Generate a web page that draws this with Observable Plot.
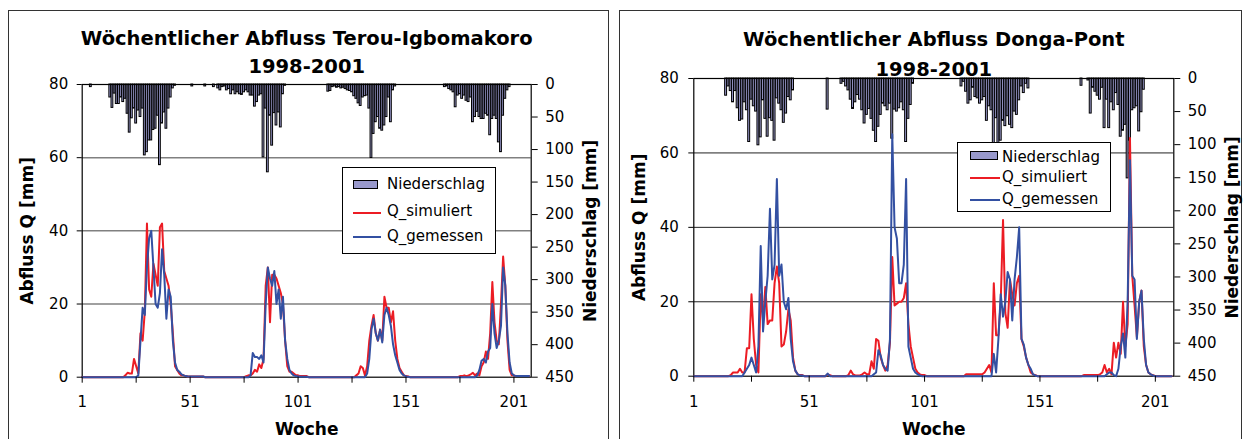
<!DOCTYPE html>
<html><head><meta charset="utf-8">
<script src="https://cdn.jsdelivr.net/npm/d3@7"></script>
<script src="https://cdn.jsdelivr.net/npm/@observablehq/plot@0.6"></script>
<style>
body{margin:0;background:#fff;font-family:"DejaVu Sans",sans-serif;}
#root{position:relative;width:1248px;height:439px;overflow:hidden;background:#fff;}
.panel{position:absolute;border:1.5px solid #333;box-sizing:border-box;}
.chart{position:absolute;top:0;}
.legend{position:absolute;background:#fff;border:1px solid #000;box-sizing:border-box;font-size:15px;line-height:15px;color:#000;}
.legend span{position:absolute;white-space:nowrap;}
.sw-rect{background:#9999cc;border:1px solid #000;box-sizing:border-box;}
</style></head>
<body>
<div id="root">
  <div class="panel" style="left:8px;top:10px;width:601px;height:460px"></div>
  <div class="panel" style="left:619px;top:10px;width:623px;height:460px"></div>
  <div id="c1" class="chart" style="left:0px"></div>
  <div id="c2" class="chart" style="left:620px"></div>
</div>
<script>
// ---------- data (weeks 1..208) ----------
const weeks = d3.range(1, 209);
const xLabels = [1, 51, 101, 151, 201];
const xTickMarks = [1, 26, 51, 76, 101, 126, 151, 176, 201];
const qTicks = [0, 20, 40, 60, 80];
const pTicks = [0, 50, 100, 150, 200, 250, 300, 350, 400, 450];
const seriesNames = ["Niederschlag", "Q_simuliert", "Q_gemessen"];

// Terou-Igbomakoro
const precipL = [
0,0,0,0,4,0,0,0,0,0,0,0,0,20,36,14,30,30,20,27,22,45,74,52,37,60,
40,50,37,109,104,86,86,70,68,48,124,60,43,68,37,20,6,2,0,0,0,0,0,0,0,3,
0,0,0,0,0,3,0,0,0,4,0,6,9,4,3,9,7,15,9,15,12,15,16,12,9,12,
17,17,34,27,17,15,112,37,135,48,94,44,63,43,66,15,2,0,0,0,0,0,0,0,0,0,
0,0,0,0,0,0,0,0,0,0,11,10,4,3,5,4,6,5,7,9,10,12,18,22,29,33,
20,18,17,37,113,76,58,50,68,71,63,50,20,58,9,3,0,0,0,0,0,0,0,0,0,0,
0,0,0,0,0,0,0,0,0,0,0,0,4,3,7,9,12,35,17,15,22,17,25,27,20,58,
50,42,50,53,53,45,48,78,53,48,53,89,104,48,22,9,4,0,0,0,0,0,0,0,0,0];
const simL = [
0,0,0,0,0,0,0,0,0,0,0,0,0,0,0,0,0,0,0,0,0.5,1.2,1,1,5,3,
1,12,10,18,42,24,22,31,28,25,41,42,29,27,25,20,12,3,2,1,0.5,0.5,0.3,0.2,0.2,0.2,
0.2,0.2,0.2,0.2,0.2,0,0,0,0,0,0,0,0,0,0,0,0,0,0,0,0,0,0,0,0.3,0.5,
0.5,1,2,1.5,3.5,2.5,5,25,30,15,28,28,27,25,23,20,10,3,1.5,1.5,1,0.5,0.5,0.3,0.3,0.3,
0.3,0,0,0,0,0,0,0,0,0,0,0,0,0,0,0,0,0,0,0,0,0,0,0.5,1,3,
2.5,0.5,3,10,14,17,12,10,13,10,22,19,19,15,18,10,5,2.5,1.5,0.5,0.3,0.2,0,0,0,0,
0,0,0,0,0,0,0,0,0,0,0,0,0,0,0,0,0,0,0,0.3,0.3,0.5,0.3,0.5,0.8,1.2,
0.5,1,0.5,3,4,7,5,12,26,15,10,9,20,33,25,10,2,0.5,0.5,0.3,0.3,0.3,0.3,0.3,0.3,0.3];
const obsL = [
0,0,0,0,0,0,0,0,0,0,0,0,0,0,0,0,0,0,0,0,0,0,0,0,0,0,
0.5,10,19,17,30,38,40,30,20,19,23,35,28,16,24,22,10,4,2,1.5,0.8,0.5,0.3,0.2,0.2,0.2,
0.2,0.2,0.2,0.2,0.2,0,0,0,0,0,0,0,0,0,0,0,0,0,0,0,0,0,0,0,0,0,
0.5,6.6,5.5,5.5,5,6,4,20,30,27,25,29,20,24,16,22,10,5,2,1,0.5,0.3,0.2,0.1,0.1,0.1,
0.1,0,0,0,0,0,0,0,0,0,0,0,0,0,0,0,0,0,0,0,0,0,0,0,0,0,
0,0,1,5,13,16,12,10,13,9.5,17,19,17,14,9,6,4,2,1,0.5,0.2,0.1,0,0,0,0,
0,0,0,0,0,0,0,0,0,0,0,0,0,0,0,0,0,0,0,0,0,0,0,0,0,0,
0,0.5,2,4.5,5,4,7,8,20,12,8,10,14,30,25,12,4,1,0.5,0.3,0.3,0.3,0.3,0.3,0.3,0.3];

// Donga-Pont
const precipR = [
0,0,0,0,0,0,0,0,0,0,0,0,0,0,26,12,19,36,19,45,64,62,36,48,96,32,
42,50,101,89,33,61,88,60,64,94,30,38,48,67,53,28,33,18,0,0,0,0,0,0,0,0,
0,0,0,0,0,0,47,0,0,0,0,0,8,5,12,18,32,46,36,25,32,48,68,55,46,61,
79,96,73,55,38,42,48,38,91,47,50,45,36,48,96,61,40,8,0,0,0,0,0,0,0,0,
0,0,0,0,0,0,0,0,0,0,0,0,12,5,20,38,33,14,28,30,38,33,28,64,42,48,
115,60,110,94,64,72,57,70,75,50,55,33,12,22,8,15,0,0,0,0,0,0,0,0,0,0,
0,0,0,0,0,0,0,0,0,0,0,0,11,0,0,3,53,14,20,26,32,14,75,32,75,36,
48,22,40,88,79,70,151,94,48,45,42,80,51,17,0,0,0,0,0,0,0,0,0,0,0,0];
const simR = [
0,0,0,0,0,0,0,0,0,0,0,0,0,0,0,0,0.3,1,1,1,2,1,1,7.5,7.5,22,
10,3,1,22,15,24,14,15,15,25,29.5,25,8,8.5,12,18,15,5,1.5,0.5,0.3,0.3,0,0,0,0,
0,0,0,0,0,0,0.5,0.3,0,0,0,0,0,0,0,0.3,1.5,0.5,0.2,0.2,0.2,0.5,1,0.5,0.5,4,
2,10,9.5,5,3,1.5,3,9,32,19,19.5,20,20,21,25,14,8,5,2,1,0.5,0.3,0.3,0,0,0,
0,0,0,0,0,0,0,0,0,0,0,0,0,0,0.5,0.5,0.5,0.5,0.5,0.5,0.5,0.5,1,2,3,1,
25,11,11,20,42,17,13,26,22,19,25,27,10,8,5,3,1,0.5,0.3,0,0,0,0,0,0,0,
0,0,0,0,0,0,0,0,0,0,0,0,0,0.3,0.3,0.3,0.3,0.3,0.3,0.3,0.5,1,3,1,2,0.5,
9,5,9,6,20,8,14,64,27,19,10.5,20,23,8,3,1,0.5,0.3,0,0,0,0,0,0,0,0];
const obsR = [
0,0,0,0,0,0,0,0,0,0,0,0,0,0,0,0,0,0,0,0,0,0,1,2,3,5,
3,1,8,35,12,20,27,45,26,30,53,27,30,20,18,21,10,4,1.5,0.5,0.2,0.2,0,0,0,0,
0,0,0,0,0,0,0.7,0,0,0,0,0,0,0,0,0,0,0,0,0,0,0,0,0,0,0,
0.5,1,7,5.5,3,2,1.5,10,65,40,37,25,25,30,53,8,5,2,1,0.5,0.2,0,0,0,0,0,
0,0,0,0,0,0,0,0,0,0,0,0,0,0,0,0,0,0,0,0,0,0,0,0,0,0,
6,1,10,22,16,20,28,26,15,26,32,40,10,8.5,5,3,2,0.5,0.2,0,0,0,0,0,0,0,
0,0,0,0,0,0,0,0,0,0,0,0,0,0,0,0,0,0,0,0,0,0,0,0.5,1,1,
0.3,0,2,8,11.5,5,20,58,27,26,10,20,23,10,3,1,0.5,0.2,0,0,0,0,0,0,0,0];

// ---------- drawing ----------
const FONT = "DejaVu Sans";
const RED = "#ec1c24";
const BLUE = "#3350a2";
const BARFILL = "#9999cc";
const pToQ = p => 80 - p * 80 / 450;

function panel(cfg) {
  const rows = weeks.map((w, i) => ({week: w, p: cfg.precip[i], sim: cfg.sim[i], obs: cfg.obs[i]}));
  return Plot.plot({
    width: cfg.width, height: 439,
    marginLeft: cfg.ml, marginRight: cfg.mr, marginTop: cfg.mt, marginBottom: cfg.mb,
    style: {fontFamily: FONT, fontSize: "15px", color: "#000", background: "transparent", overflow: "visible"},
    x: {domain: [1, 209], axis: null},
    y: {domain: [0, 80], axis: null, label: null},
    marks: [
      Plot.gridY(qTicks.slice(1, 4), {stroke: cfg.gridColor, strokeOpacity: 1, strokeWidth: cfg.gridWidth}),
      Plot.rect(rows.filter(d => d.p > 0), {
        x1: d => d.week - 0.42, x2: d => d.week + 0.42,
        y1: d => 80, y2: d => pToQ(d.p),
        fill: BARFILL, stroke: "#000", strokeWidth: 1
      }),
      Plot.frame({stroke: "#000", strokeWidth: 1.2}),
      Plot.line(rows, {x: "week", y: "sim", stroke: RED, strokeWidth: 2}),
      Plot.line(rows, {x: "week", y: "obs", stroke: BLUE, strokeWidth: 2}),
      Plot.axisY(qTicks, {anchor: "left", tickSize: 5, tickPadding: cfg.ltp, label: null, fontSize: 15}),
      Plot.axisY(pTicks.map(pToQ), {anchor: "right", tickSize: 6, tickPadding: 8, label: null, fontSize: 15,
        tickFormat: q => String(Math.round((80 - q) * 450 / 80))}),
      Plot.axisX(xTickMarks, {anchor: "bottom", tickSize: 6, tickPadding: cfg.xtp, label: null, fontSize: 15,
        tickFormat: d => xLabels.includes(d) ? String(d) : ""}),
      Plot.text([cfg.title1], {text: d => d, frameAnchor: "top", dy: cfg.t1dy, lineAnchor: "bottom",
        fontSize: 19.5, fontWeight: "bold"}),
      Plot.text([cfg.title2], {text: d => d, frameAnchor: "top", dy: cfg.t2dy, lineAnchor: "bottom",
        fontSize: 19.5, fontWeight: "bold"}),
      Plot.text(["Abfluss Q [mm]"], {text: d => d, frameAnchor: "left", rotate: -90, dx: cfg.ylDx,
        lineAnchor: "bottom", textAnchor: "middle", fontSize: 17, fontWeight: "bold"}),
      Plot.text(["Niederschlag [mm]"], {text: d => d, frameAnchor: "right", rotate: -90, dx: cfg.yrDx,
        lineAnchor: "bottom", textAnchor: "middle", fontSize: 17, fontWeight: "bold"}),
      Plot.text(["Woche"], {text: d => d, frameAnchor: "bottom", dy: cfg.wDy, lineAnchor: "bottom",
        fontSize: 17, fontWeight: "bold"})
    ]
  });
}

document.getElementById("c1").append(panel({
  precip: precipL, sim: simL, obs: obsL,
  width: 620, ml: 81.7, mr: 89.3, mt: 84, mb: 62.3,
  gridColor: "#808080", gridWidth: 1.5, ltp: 9, xtp: 13,
  title1: "Wöchentlicher Abfluss Terou-Igbomakoro", title2: "1998-2001",
  t1dy: -40, t2dy: -12, ylDx: -48.7, yrDx: 64.3, wDy: 57.3
}));
document.getElementById("c2").append(panel({
  precip: precipR, sim: simR, obs: obsR,
  width: 628, ml: 73.3, mr: 74.7, mt: 78, mb: 63.3,
  gridColor: "#222", gridWidth: 1, ltp: 10, xtp: 14,
  title1: "Wöchentlicher Abfluss Donga-Pont", title2: "1998-2001",
  t1dy: -33, t2dy: -3, ylDx: -49.3, yrDx: 63.7, wDy: 58.3
}));

// ---------- legends (HTML overlay) ----------
function legend(box) {
  const el = document.createElement("div");
  el.className = "legend";
  Object.assign(el.style, {left: box.x + "px", top: box.y + "px", width: box.w + "px", height: box.h + "px"});
  const colors = [null, RED, BLUE];
  seriesNames.forEach((name, i) => {
    const sw = document.createElement("span");
    if (i === 0) {
      sw.className = "sw-rect";
      Object.assign(sw.style, {left: box.sx + "px", top: (box.sy[0] - 4.5) + "px", width: box.rw + "px", height: "9px"});
    } else {
      Object.assign(sw.style, {left: box.sx + "px", top: (box.sy[i] - 1) + "px", width: box.lw + "px", height: "2px", background: colors[i]});
    }
    el.append(sw);
    const t = document.createElement("span");
    t.textContent = name;
    Object.assign(t.style, {left: box.tx + "px", top: (box.tb[i] - 12.7) + "px"});
    el.append(t);
  });
  document.getElementById("root").append(el);
}
legend({x: 342, y: 167, w: 154, h: 87, sx: 10, rw: 25, lw: 28, tx: 44, sy: [16, 44.5, 68.7], tb: [22, 49, 74]});
legend({x: 957, y: 142, w: 154, h: 70, sx: 12, rw: 28, lw: 30, tx: 44, sy: [12.5, 34.7, 57], tb: [19.7, 39.7, 62]});
</script>
</body></html>
